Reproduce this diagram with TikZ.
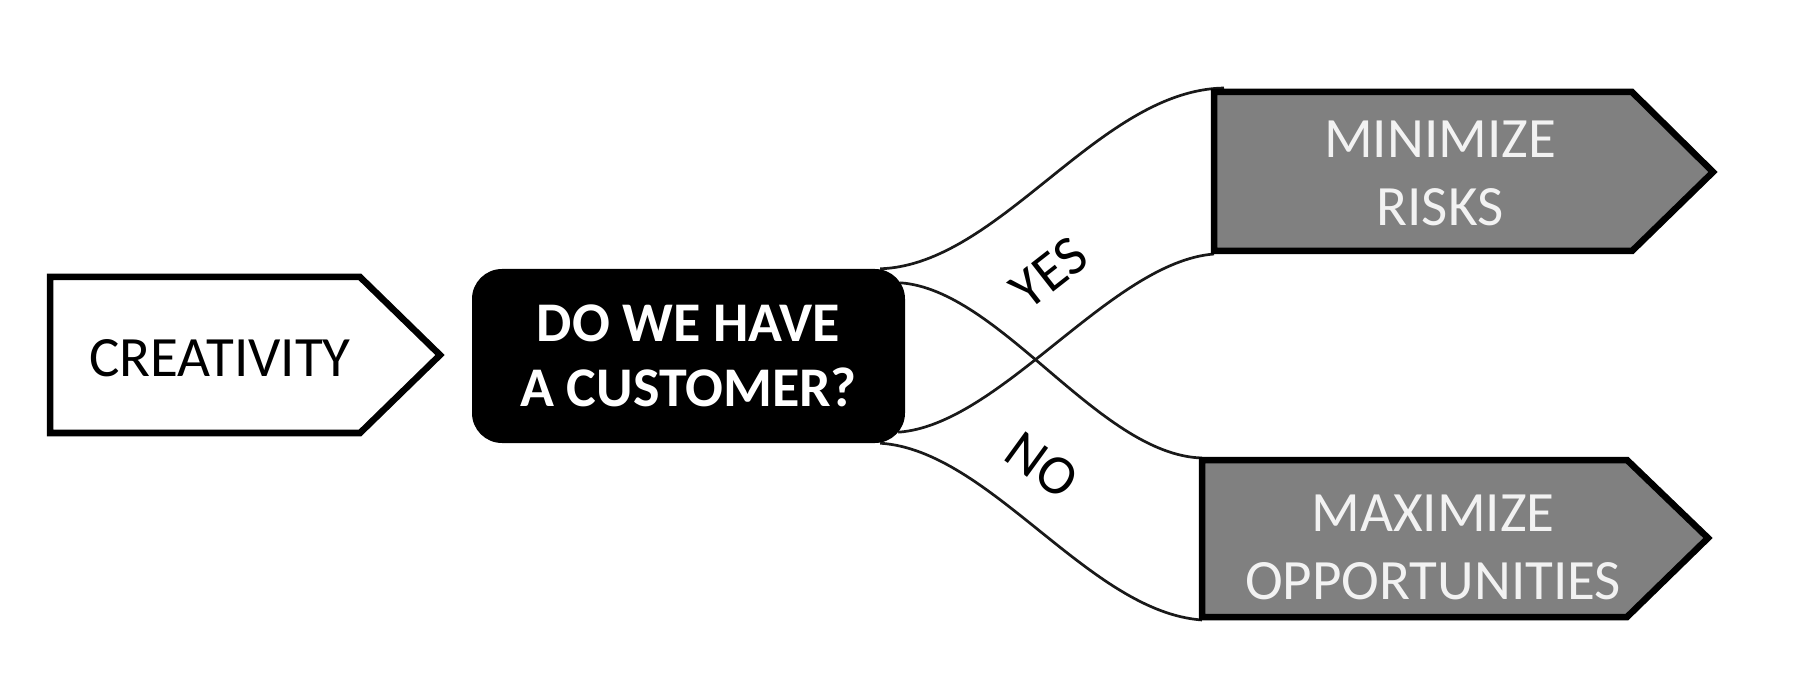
\documentclass[tikz,border=0pt]{standalone}
\usepackage{fontspec}
\setmainfont{Carlito}
\usetikzlibrary{calc,backgrounds}
\definecolor{boxgray}{RGB}{128,128,128}
\definecolor{lighttext}{RGB}{242,242,242}
\begin{document}
\begin{tikzpicture}[x=1pt,y=-1pt,
  outline/.style={line width=6.5pt, line join=miter},
  link/.style={line width=2.7pt, draw=black!90},
  lbl/.style={font=\fontsize{57}{68}\selectfont, align=center, inner sep=0pt},
  qbox/.style={fill=black, rounded corners=30pt, minimum width=433pt, minimum height=174pt,
    text=white, inner sep=0pt, align=center, font=\fontsize{56}{65}\selectfont\bfseries},
  branch/.style={font=\fontsize{56}{62}\selectfont, inner sep=0pt},
]
\useasboundingbox (0,0) rectangle (1794,700);

% CREATIVITY pentagon
\draw[outline, fill=white] (50,277) -- (360,277) -- (440,355) -- (360,433) -- (50,433) -- cycle;
\node[lbl, text=black] (crea) at (220,358) {CREATIVITY};

% Question box
\node[qbox] (q) at (688.5,356) {DO WE HAVE\\A CUSTOMER?};

% Gray pentagons
\coordinate (minTL) at (1214,92);
\coordinate (minBL) at (1214,251);
\coordinate (maxTL) at (1202,460);
\coordinate (maxBL) at (1202,617);
\draw[outline, fill=boxgray] (minTL) -- (1632,92) -- (1713,172) -- (1632,251) -- (minBL) -- cycle;
\draw[outline, fill=boxgray] (maxTL) -- (1627,460) -- (1708,538) -- (1627,617) -- (maxBL) -- cycle;
\node[lbl, text=lighttext] (minr) at (1440,173) {MINIMIZE\\RISKS};
\node[lbl, text=lighttext] (maxo) at (1433,547) {MAXIMIZE\\OPPORTUNITIES};

% Connectors
\begin{scope}[on background layer]
\draw[link] ($(q.north east)+(-25,0)$) .. controls +(120,-4) and +(-125,2) .. ($(minTL)+(10,-4)$);
\draw[link] ($(q.north east)+(-5,14)$) .. controls +(100,7) and +(-103,-3) .. ($(maxTL)+(0,-2)$);
\draw[link] ($(q.south east)+(-7,-11)$) .. controls +(102,-7) and +(-103,8) .. ($(minBL)+(0,3)$);
\draw[link] ($(q.south east)+(-25,0)$) .. controls +(110,7) and +(-113,-8) .. ($(maxBL)+(0,3)$);
\end{scope}

\node[branch, rotate=38] (yes) at (1049,273) {YES};
\node[branch, rotate=-36] (no) at (1042,465) {NO};
\end{tikzpicture}
\end{document}
